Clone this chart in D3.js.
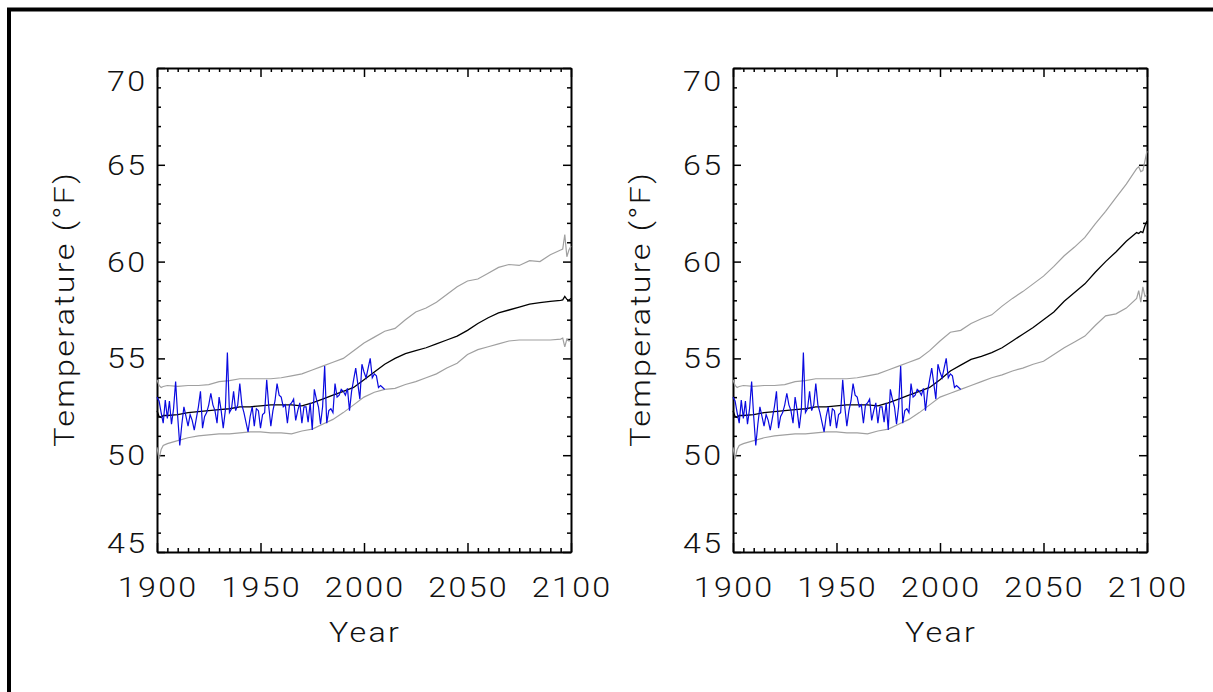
<!DOCTYPE html>
<meta charset="utf-8">
<style>

body { margin: 0; background: #fff; }

text {
  font-family: Roboto, "DejaVu Sans", sans-serif;
  font-weight: 300;
  font-size: 28px;
  letter-spacing: 2px;
  fill: #111;
}

.axis path, .axis line { stroke: #000; fill: none; }
.axis.major path { stroke-width: 2px; }
.axis line { stroke-width: 1.5px; }

.band { fill: none; stroke: #a0a0a0; stroke-width: 1.2px; }
.mean { fill: none; stroke: #000; stroke-width: 1.3px; }
.obs { fill: none; stroke: #0a0ae0; stroke-width: 1.2px; }

</style>
<svg width="1213" height="692"></svg>
<script src="https://cdn.jsdelivr.net/npm/d3@7"></script>
<script>

// observed annual temperatures, 1900-2010
var obsYears = d3.range(1900, 2011);
var obsTemp = [
  53.0, 52.8, 52.2, 51.65, 52.85, 51.9, 52.8, 51.6, 52.4, 53.8,
  52.0, 50.5, 51.6, 52.5, 52.0, 51.5, 52.1, 51.8, 51.3, 51.9,
  52.5, 53.3, 51.4, 52.0, 52.2, 52.6, 53.2, 52.6, 52.3, 51.65,
  53.0, 52.3, 51.4, 52.3, 55.3, 52.2, 52.4, 53.3, 52.3, 52.6,
  53.7, 52.6, 52.2, 51.7, 51.2, 52.0, 52.5, 51.5, 52.4, 52.3,
  51.4, 52.1, 52.2, 53.9, 52.5, 51.5, 52.3, 52.8, 53.7, 53.1,
  53.0, 52.5, 52.6, 51.65, 52.6, 52.7, 52.9, 51.8, 52.3, 52.7,
  51.65, 52.5, 52.5, 51.7, 52.7, 51.3, 53.4, 52.9, 52.5, 51.6,
  52.5, 54.6, 51.65, 52.3, 52.4, 52.2, 53.7, 53.0, 53.1, 53.4,
  53.3, 53.1, 53.45, 52.3, 53.3, 53.9, 54.5, 53.7, 52.9, 54.7,
  54.3, 54.0, 54.5, 55.0, 54.0, 54.2, 54.1, 53.5, 53.6, 53.5, 53.4
];

// model years for the simulated mean and its range
var modelYears = [1900, 1901, 1902, 1903, 1905, 1910, 1915, 1920, 1925, 1930,
  1935, 1940, 1945, 1950, 1955, 1960, 1965, 1970, 1975, 1980,
  1985, 1990, 1995, 2000, 2005, 2010, 2015, 2020, 2025, 2030,
  2035, 2040, 2045, 2050, 2055, 2060, 2065, 2070, 2075, 2080,
  2085, 2090, 2095, 2096, 2097, 2098, 2099, 2100];

// left panel (lower emissions)
var lowMean = [52.3, 52.0, 51.95, 52.05, 52.05, 52.1, 52.2, 52.25, 52.3, 52.35,
  52.4, 52.5, 52.5, 52.55, 52.6, 52.6, 52.6, 52.55, 52.7, 52.9,
  53.1, 53.3, 53.5, 53.9, 54.3, 54.7, 55.0, 55.25, 55.4, 55.55,
  55.75, 55.95, 56.15, 56.45, 56.8, 57.1, 57.35, 57.5, 57.65, 57.8,
  57.88, 57.95, 58.0, 58.02, 58.2, 58.05, 58.0, 58.1];
var lowUpper = [53.9, 53.6, 53.5, 53.55, 53.6, 53.55, 53.6, 53.6, 53.65, 53.8,
  53.85, 53.95, 53.95, 53.95, 53.95, 54.0, 54.1, 54.2, 54.4, 54.6,
  54.8, 55.0, 55.4, 55.8, 56.1, 56.4, 56.55, 57.0, 57.4, 57.6,
  57.9, 58.3, 58.7, 59.0, 59.1, 59.4, 59.7, 59.85, 59.8, 60.05,
  60.0, 60.35, 60.6, 60.65, 61.4, 60.25, 60.6, 60.8];
var lowLower = [50.4, 49.8, 50.3, 50.5, 50.6, 50.75, 50.9, 51.0, 51.05, 51.1,
  51.1, 51.15, 51.2, 51.2, 51.15, 51.15, 51.1, 51.25, 51.35, 51.6,
  51.85, 52.2, 52.6, 53.0, 53.25, 53.4, 53.45, 53.65, 53.8, 54.0,
  54.2, 54.5, 54.75, 55.2, 55.45, 55.6, 55.75, 55.9, 55.95, 55.95,
  55.95, 55.95, 56.0, 56.05, 55.6, 56.0, 55.9, 55.95];

// right panel (higher emissions)
var highMean = [52.3, 52.0, 51.95, 52.05, 52.05, 52.1, 52.2, 52.25, 52.3, 52.35,
  52.4, 52.5, 52.5, 52.55, 52.6, 52.6, 52.6, 52.55, 52.7, 52.9,
  53.1, 53.3, 53.5, 53.9, 54.35, 54.65, 54.95, 55.1, 55.3, 55.55,
  55.9, 56.25, 56.6, 57.0, 57.4, 57.95, 58.4, 58.85, 59.45, 60.0,
  60.5, 61.05, 61.5, 61.45, 61.55, 61.5, 61.85, 62.1];
var highUpper = [53.9, 53.6, 53.5, 53.55, 53.6, 53.55, 53.6, 53.6, 53.65, 53.8,
  53.85, 53.95, 53.95, 53.95, 53.95, 54.0, 54.1, 54.2, 54.4, 54.6,
  54.8, 55.0, 55.4, 55.9, 56.35, 56.45, 56.8, 57.05, 57.25, 57.7,
  58.1, 58.45, 58.85, 59.25, 59.75, 60.3, 60.75, 61.25, 61.95, 62.6,
  63.3, 64.0, 64.8, 64.9, 64.65, 64.7, 65.2, 65.7];
var highLower = [50.4, 49.8, 50.3, 50.5, 50.6, 50.75, 50.9, 51.0, 51.05, 51.1,
  51.1, 51.15, 51.2, 51.2, 51.15, 51.15, 51.1, 51.25, 51.35, 51.6,
  51.85, 52.2, 52.6, 53.0, 53.2, 53.4, 53.6, 53.8, 54.0, 54.15,
  54.35, 54.5, 54.7, 54.85, 55.2, 55.55, 55.85, 56.15, 56.7, 57.2,
  57.3, 57.6, 58.1, 58.5, 57.9, 58.7, 58.2, 58.3];

var xTicks = [1900, 1950, 2000, 2050, 2100];
var yTicks = [45, 50, 55, 60, 65, 70];

var panels = [
  {left: 157, right: 571, mean: lowMean, upper: lowUpper, lower: lowLower},
  {left: 733, right: 1147, mean: highMean, upper: highUpper, lower: highLower}
];

var svg = d3.select("svg"),
    plotTop = 68,
    plotBottom = 552,
    stretch = 1.15,   // widen glyphs a little, like the plotting font
    spacing = 2 * stretch;

// outer frame (top and left edges)
svg.append("path")
    .attr("d", "M9,692V9.5H1213")
    .attr("fill", "none")
    .attr("stroke", "#000")
    .attr("stroke-width", 4);

// text helper: anchor offsets make up for trailing letter-spacing
function label(g, str, x, y, anchor, rotate) {
  var shift = anchor === "end" ? 2 : anchor === "middle" ? 1 : 0;
  g.append("text")
      .attr("transform", "translate(" + x + "," + y + ")" + (rotate ? "rotate(-90)" : "") + "scale(" + stretch + ",1)")
      .attr("x", shift)
      .attr("text-anchor", anchor)
      .text(str);
}

panels.forEach(function(p) {
  var x = d3.scaleLinear().domain([1900, 2100]).range([p.left, p.right]),
      y = d3.scaleLinear().domain([45, 70]).range([plotBottom, plotTop]);

  var g = svg.append("g");

  function addAxis(axis, tx, ty, cls) {
    g.append("g")
        .attr("class", "axis " + cls)
        .attr("transform", "translate(" + tx + "," + ty + ")")
        .call(axis.tickFormat("").tickSizeOuter(0))
        .selectAll("text").remove();
  }

  var xMinor = d3.range(1900, 2101, 5).filter(function(d) { return d % 50; }),
      yMinor = d3.range(45, 71, 1).filter(function(d) { return d % 5; });

  // minor ticks first, then major ticks and frame on top
  addAxis(d3.axisBottom(x).tickValues(xMinor).tickSize(-4), 0, plotBottom, "minor");
  addAxis(d3.axisTop(x).tickValues(xMinor).tickSize(-4), 0, plotTop, "minor");
  addAxis(d3.axisLeft(y).tickValues(yMinor).tickSize(-4), p.left, 0, "minor");
  addAxis(d3.axisRight(y).tickValues(yMinor).tickSize(-4), p.right, 0, "minor");
  addAxis(d3.axisBottom(x).tickValues(xTicks).tickSize(-9), 0, plotBottom, "major");
  addAxis(d3.axisTop(x).tickValues(xTicks).tickSize(-9), 0, plotTop, "major");
  addAxis(d3.axisLeft(y).tickValues(yTicks).tickSize(-8), p.left, 0, "major");
  addAxis(d3.axisRight(y).tickValues(yTicks).tickSize(-8), p.right, 0, "major");

  var line = d3.line()
      .x(function(d) { return x(d[0]); })
      .y(function(d) { return y(d[1]); });

  g.append("path").attr("class", "band").attr("d", line(d3.zip(modelYears, p.upper)));
  g.append("path").attr("class", "band").attr("d", line(d3.zip(modelYears, p.lower)));
  g.append("path").attr("class", "mean").attr("d", line(d3.zip(modelYears, p.mean)));
  g.append("path").attr("class", "obs").attr("d", line(d3.zip(obsYears, obsTemp)));

  xTicks.forEach(function(d) {
    label(g, d, x(d), 597, "middle");
  });

  yTicks.forEach(function(d) {
    label(g, d, p.left - 12, Math.max(plotTop + 23, Math.min(plotBottom + 1, y(d) + 10)), "end");
  });

  label(g, "Year", (p.left + p.right) / 2, 642, "middle");
  label(g, "Temperature (°F)", p.left - 83, (plotTop + plotBottom) / 2, "middle", true);
});

</script>
